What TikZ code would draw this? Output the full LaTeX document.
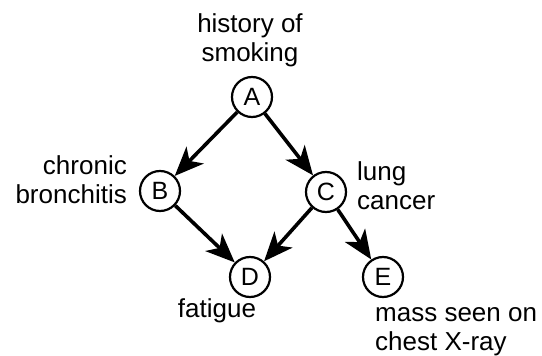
\documentclass[tikz,border=0pt]{standalone}
\usepackage{fontspec}
\setmainfont{Liberation Sans}
\usepackage{tikz}
\usetikzlibrary{shapes,arrows.meta}

\tikzset{
  var/.style={circle, draw, line width=2.2pt, minimum size=40pt, inner sep=0pt,
    font=\fontsize{25}{28}\selectfont},
  cause/.style={line width=3.6pt, -{Stealth[length=29pt,width=24pt,inset=8pt]}},
  lbl/.style={inner sep=0pt, font=\fontsize{26}{29}\selectfont},
}

\begin{document}
\begin{tikzpicture}[x=1pt, y=-1pt]
       \useasboundingbox (0,0) rectangle (542,356);
       % variables
       \node[var] (a) at (252, 97) {A};
       \node[var] (b) at (160,191) {B};
       \node[var] (c) at (326,192) {C};
       \node[var] (d) at (250,277) {D};
       \node[var] (e) at (383,277) {E};

       % draw diagram
       \draw[cause] (a) -- (b);
       \draw[cause] (a) -- (c);
       \draw[cause] (b) -- (d);
       \draw[cause] (c) -- (d);
       \draw[cause] (c) -- (e);

       % labels (base = last line)
       \node[lbl, anchor=base, align=center] (la) at (250, 61) {history of\\smoking};
       \node[lbl, anchor=base east, align=right] (lb) at (127,203) {chronic\\bronchitis};
       \node[lbl, anchor=base west, align=left] (lc) at (357,209) {lung\\cancer};
       \node[lbl, anchor=base] (ld) at (217,317) {fatigue};
       \node[lbl, anchor=base west, align=left] (le) at (375,350) {mass seen on\\chest X-ray};
\end{tikzpicture}
\end{document}
